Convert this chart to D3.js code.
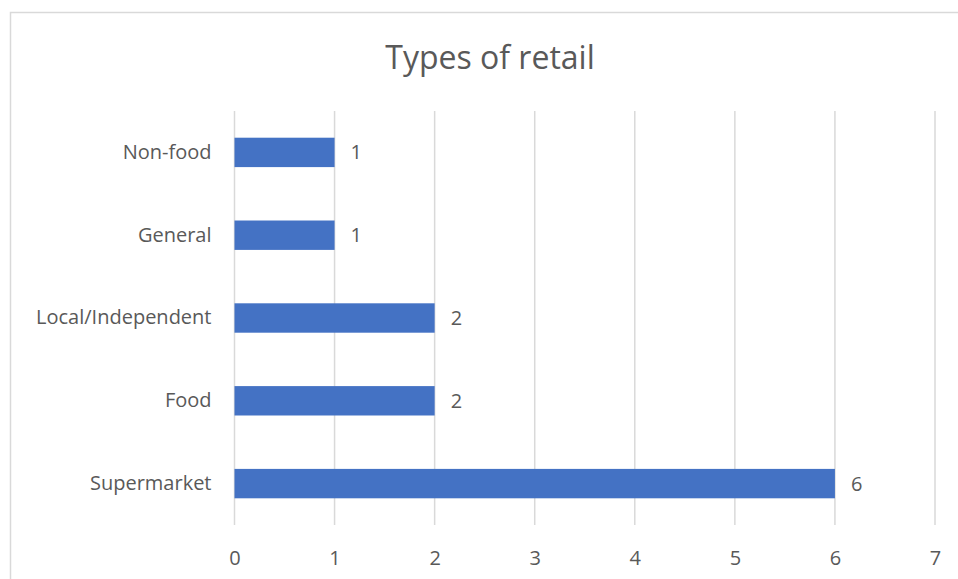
<!DOCTYPE html>
<meta charset="utf-8">
<style>
  body { margin: 0; background: #fff; }
  text { font-family: "Open Sans", sans-serif; fill: #595959; }
</style>
<script src="https://d3js.org/d3.v7.min.js"></script>
<div id="my_dataviz"></div>
<script>

// data
var categories = ["Supermarket", "Food", "Local/Independent", "General", "Non-food"];
var values = [6, 2, 2, 1, 1];
var xTicks = [0, 1, 2, 3, 4, 5, 6, 7];

var data = categories.map(function(c, i) { return { name: c, value: values[i] }; });

var W = 958, H = 579;
var margin = {top: 111, right: 23, bottom: 54, left: 234.5},
    width = 935 - margin.left,
    height = 525 - margin.top;

var svg = d3.select("#my_dataviz")
  .append("svg")
    .attr("width", W)
    .attr("height", H);

// chart border (runs off the picture at right and bottom)
svg.append("rect")
  .attr("x", 10.5).attr("y", 12.5)
  .attr("width", 1000).attr("height", 1000)
  .attr("fill", "none")
  .attr("stroke", "#d9d9d9")
  .attr("stroke-width", 1.5);

svg.append("text")
  .attr("x", 490).attr("y", 69)
  .attr("text-anchor", "middle")
  .style("font-size", "32px")
  .text("Types of retail");

var g = svg.append("g")
  .attr("transform", "translate(" + margin.left + "," + margin.top + ")");

var x = d3.scaleLinear().domain([0, 7]).range([0, width]);
var y = d3.scaleBand()
  .domain(categories.slice().reverse())
  .range([0, height])
  .paddingInner(0.645)
  .paddingOuter(0.3225);

// gridlines
g.selectAll(".grid")
  .data(xTicks)
  .enter().append("line")
    .attr("x1", function(d) { return x(d); })
    .attr("x2", function(d) { return x(d); })
    .attr("y1", 0).attr("y2", height)
    .attr("stroke", "#d9d9d9")
    .attr("stroke-width", 1.5);

// x axis labels
var xAxis = d3.axisBottom(x).tickValues(xTicks).tickFormat(d3.format("d")).tickSize(0).tickPadding(26);
g.append("g")
  .attr("transform", "translate(0," + height + ")")
  .call(xAxis)
  .call(function(s) { s.select(".domain").remove(); })
  .selectAll("text")
    .style("font-size", "20px")
    .attr("fill", "#595959");

// y axis labels
var yAxis = d3.axisLeft(y).tickSize(0).tickPadding(23);
g.append("g")
  .call(yAxis)
  .call(function(s) { s.select(".domain").remove(); })
  .selectAll("text")
    .style("font-size", "20px")
    .attr("fill", "#595959");

// bars
g.selectAll(".bar")
  .data(data)
  .enter().append("rect")
    .attr("x", x(0))
    .attr("y", function(d) { return y(d.name); })
    .attr("width", function(d) { return x(d.value) - x(0); })
    .attr("height", y.bandwidth())
    .attr("fill", "#4472c4");

// value labels
g.selectAll(".lbl")
  .data(data)
  .enter().append("text")
    .attr("x", function(d) { return x(d.value) + 16; })
    .attr("y", function(d) { return y(d.name) + y.bandwidth() / 2; })
    .attr("dy", "0.35em")
    .style("font-size", "20px")
    .text(function(d) { return d.value; });

</script>
